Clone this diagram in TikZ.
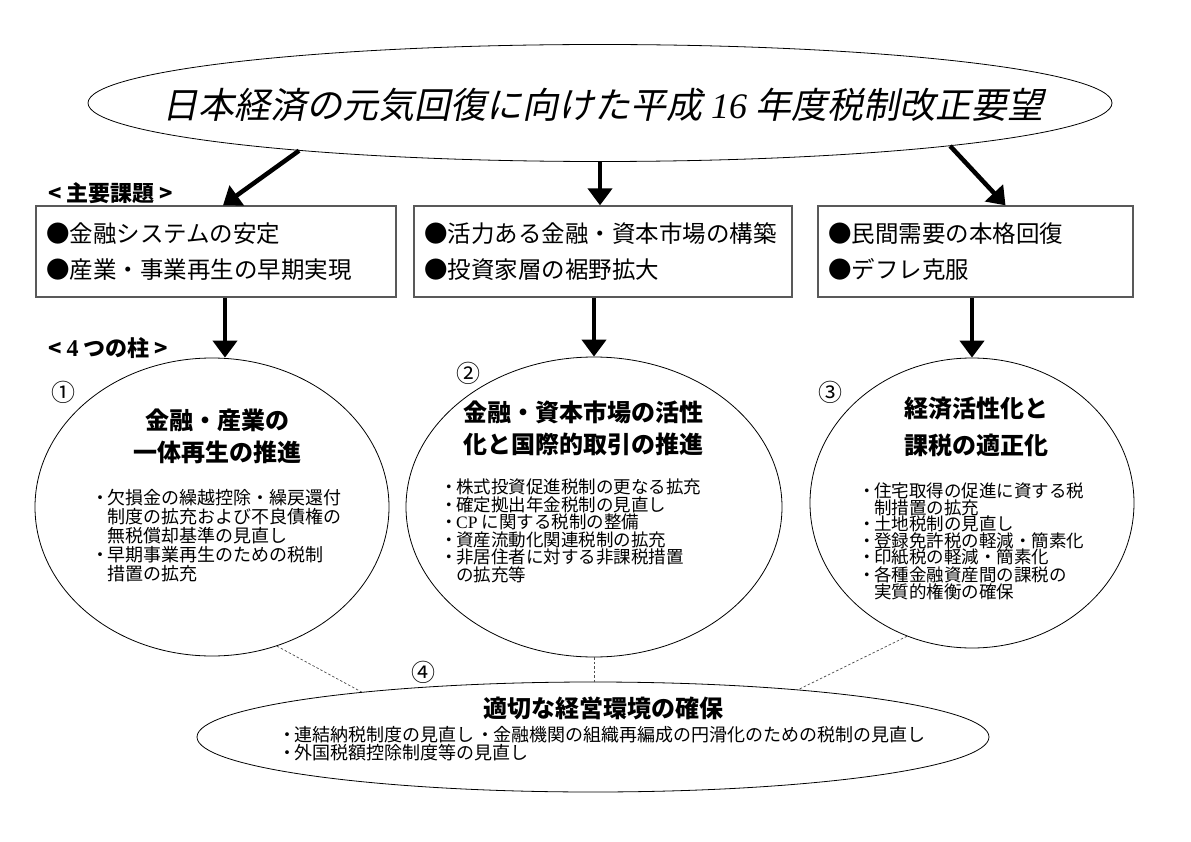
\documentclass[tikz,border=0pt]{standalone}
\usepackage{fontspec}
\usetikzlibrary{arrows.meta,shapes.geometric,positioning}
\newfontfamily\jp{Noto Sans CJK JP}
\newfontfamily\jpit[FakeSlant=0.2]{Noto Sans CJK JP}
\newfontfamily\tms{Liberation Serif}
\newcommand{\bul}{\makebox[0.8em][c]{・}}
\newcommand{\ind}{\hspace*{0.8em}}

\begin{document}
\begin{tikzpicture}[x=1pt,y=-1pt,
    oval/.style={draw=black,line width=0.8pt,ellipse,inner sep=0pt},
    issuebox/.style={draw=black!65,line width=1.3pt,rectangle,inner xsep=10pt,inner ysep=0pt,
      minimum height=91pt,align=left,font=\jp\fontsize{23.5pt}{36pt}\selectfont},
    bigarrow/.style={line width=4.5pt,-{Triangle[length=17pt,width=24pt]}},
    tie/.style={draw=black!70,line width=0.7pt,dash pattern=on 2.5pt off 2pt},
    heading/.style={font=\jp\bfseries\fontsize{22pt}{24pt}\selectfont,inner sep=0pt,anchor=west},
    pillar/.style={font=\jp\bfseries\fontsize{24pt}{32pt}\selectfont,align=center,inner sep=0pt},
    measures/.style={align=left,inner sep=0pt,anchor=north west},
    num/.style={font=\jp\fontsize{24pt}{26pt}\selectfont,inner sep=0pt}]
  \useasboundingbox (0,0) rectangle (1191,842);

  % title
  \node[oval,minimum width=1024pt,minimum height=117pt] (top) at (600,103) {};
  \node[inner sep=0pt,font=\jpit\fontsize{36pt}{40pt}\selectfont] (title) at (603,105)
    {日本経済の元気回復に向けた平成 {\tms\itshape 16} 年度税制改正要望};

  % issues
  \node[heading] (lbl1) at (48,193) {< 主要課題 >};
  \node[issuebox,text width=340pt] (box1) at (216,251.5) {●金融システムの安定\\●産業・事業再生の早期実現};
  \node[issuebox,text width=358pt] (box2) at (603,251.5) {●活力ある金融・資本市場の構築\\●投資家層の裾野拡大};
  \node[issuebox,text width=295pt] (box3) at (975.5,251.5) {●民間需要の本格回復\\●デフレ克服};

  \draw[bigarrow] (top.-171) -- ([xshift=7pt]box1.north);
  \draw[bigarrow] (top.south) -- (top.south |- box2.north);
  \draw[bigarrow] (top.-7.6) -- ([xshift=30pt]box3.north);

  % pillars
  \node[heading] (lbl2) at (48,348) {< {\tms\bfseries\fontsize{24pt}{24pt}\selectfont 4} つの柱 >};
  \node[oval,minimum width=354pt,minimum height=298pt] (c1) at (212,507) {};
  \node[oval,minimum width=376pt,minimum height=300pt] (c2) at (594,507) {};
  \node[oval,minimum width=324pt,minimum height=290pt] (c3) at (972,503) {};
  \node[oval,minimum width=792pt,minimum height=110pt] (c4) at (593,737) {};

  \draw[bigarrow] ([xshift=9pt]box1.south) -- ([xshift=9pt]box1.south |- c1.north);
  \draw[bigarrow] (box2.south -| c2.north) -- (c2.north);
  \draw[bigarrow] (box3.south -| c3.north) -- (c3.north);

  \draw[tie] (c1.-65) -- (c4.169);
  \draw[tie] (c2.south) -- (c2.south |- c4.north);
  \draw[tie] (c3.-116) -- (c4.13);

  \node[num] (n1) at (63,392) {①};
  \node[num] (n2) at (468,373) {②};
  \node[num] (n3) at (830,392) {③};
  \node[num] (n4) at (423,672) {④};

  \node[pillar] (t1) at (217,436) {金融・産業の\\一体再生の推進};
  \node[pillar] (t2) at (583,428.5) {金融・資本市場の活性\\化と国際的取引の推進};
  \node[pillar,font=\jp\bfseries\fontsize{24pt}{37pt}\selectfont] (t3) at (976,426.5) {経済活性化と\\課税の適正化};
  \node[pillar] (t4) at (603,708) {適切な経営環境の確保};

  \node[measures,font=\jp\fontsize{18pt}{19pt}\selectfont] (m1) at (93,489)
    {\bul 欠損金の繰越控除・繰戻還付\\\ind 制度の拡充および不良債権の\\\ind 無税償却基準の見直し\\
     \bul 早期事業再生のための税制\\\ind 措置の拡充};
  \node[measures,font=\jp\fontsize{17.5pt}{17.5pt}\selectfont] (m2) at (442,479)
    {\bul 株式投資促進税制の更なる拡充\\\bul 確定拠出年金税制の見直し\\\bul {\tms CP} に関する税制の整備\\
     \bul 資産流動化関連税制の拡充\\\bul 非居住者に対する非課税措置\\\ind の拡充等};
  \node[measures,font=\jp\fontsize{17.5pt}{16.5pt}\selectfont] (m3) at (860,483)
    {\bul 住宅取得の促進に資する税\\\ind 制措置の拡充\\\bul 土地税制の見直し\\\bul 登録免許税の軽減・簡素化\\
     \bul 印紙税の軽減・簡素化\\\bul 各種金融資産間の課税の\\\ind 実質的権衡の確保};
  \node[measures,font=\jp\fontsize{18pt}{16pt}\selectfont] (m4) at (280,726)
    {\bul 連結納税制度の見直し \bul 金融機関の組織再編成の円滑化のための税制の見直し\\\bul 外国税額控除制度等の見直し};
\end{tikzpicture}
\end{document}
